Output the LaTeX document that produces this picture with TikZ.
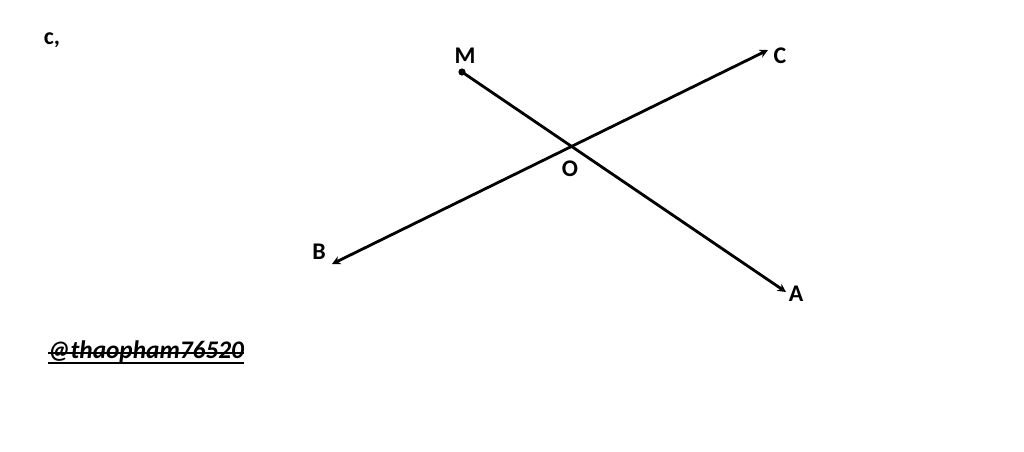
\documentclass[tikz,border=0pt]{standalone}
\usepackage{fontspec}
\setmainfont{Carlito}
\usetikzlibrary{arrows.meta,calc,positioning}
\tikzstyle{lbl} = [font=\bfseries\fontsize{17}{19}\selectfont, inner sep=1pt]
\tikzstyle{ray} = [line width=2pt, line cap=round]

\begin{document}
\begin{tikzpicture}
\useasboundingbox (0,0) rectangle (25.6,-11.275);
\coordinate (M) at (11.55,-1.8);
\coordinate (A) at (19.65,-7.3);
\coordinate (B) at (8.3,-6.6);
\coordinate (C) at (19.2,-1.25);
\node[lbl] (cc) at (1.3,-1.0) {c,};
\node[lbl] (m) at (11.625,-1.4) {M};
\node[lbl] (c) at (19.5,-1.4) {C};
\node[lbl] (o) at (14.25,-4.225) {O};
\node[lbl] (b) at (7.975,-6.3) {B};
\node[lbl] (a) at (19.9,-7.35) {A};
\draw[ray, -{Stealth[length=6pt,width=6pt]}] (M)--(A);
\draw[ray, {Stealth[length=6pt,width=6pt]}-{Stealth[length=6pt,width=6pt]}] (B)--(C);
\fill (M) circle(0.09);
% watermark
\node[font=\bfseries\itshape\fontsize{18}{20}\selectfont, inner sep=0pt] (w) at (3.65,-8.8) {@thaopham76520};
\draw[line width=1.2pt] ([yshift=4pt]w.base west)--([yshift=4pt]w.base east);
\draw[line width=1.2pt] ([yshift=-3pt]w.base west)--([yshift=-3pt]w.base east);
\end{tikzpicture}
\end{document}
